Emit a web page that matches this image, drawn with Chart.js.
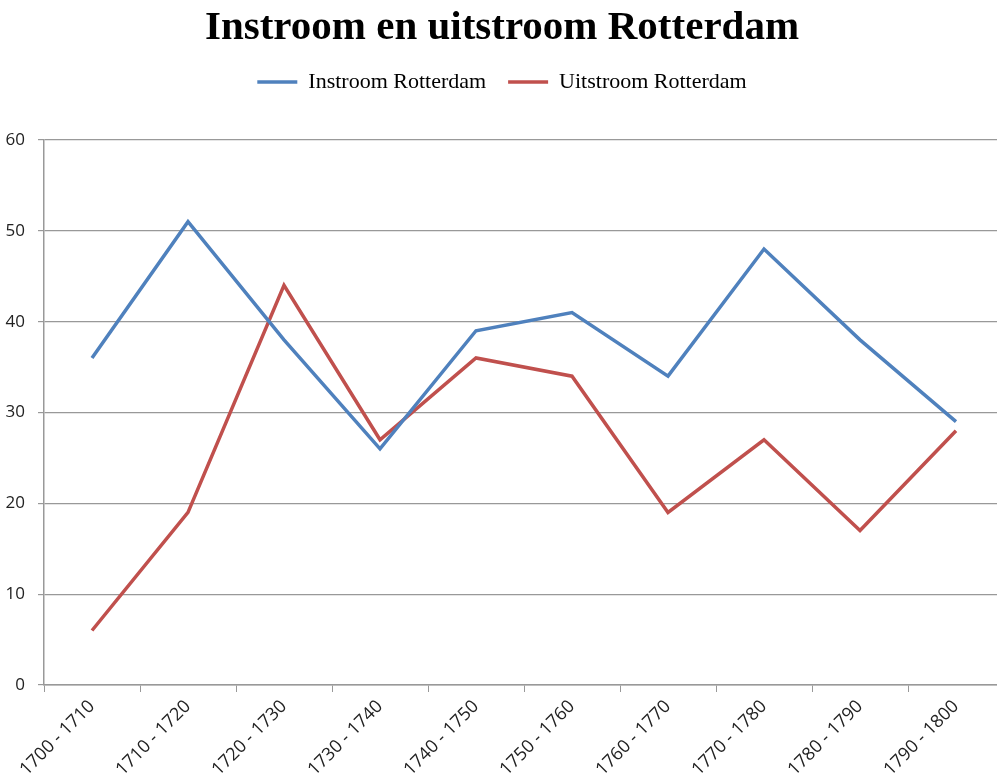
<!DOCTYPE html>
<html><head><meta charset="utf-8">
<script src="https://cdn.jsdelivr.net/npm/chart.js@4/dist/chart.umd.min.js"></script>
<style>html,body{margin:0;padding:0;background:#fff;overflow:hidden}#wrap{width:997px;height:778px;overflow:hidden}</style>
</head><body><div id="wrap"><canvas id="c" width="1004" height="778"></canvas></div>
<script>
const categories = ['1700 - 1710','1710 - 1720','1720 - 1730','1730 - 1740','1740 - 1750','1750 - 1760','1760 - 1770','1770 - 1780','1780 - 1790','1790 - 1800'];
const instroom = [36, 51, 38, 26, 39, 41, 34, 48, 38, 29];
const uitstroom = [6, 19, 44, 27, 36, 34, 19, 27, 17, 28];
const yTicks = [0, 10, 20, 30, 40, 50, 60];

const legendSpace = {id:'legendSpace', beforeInit(chart){ const fit = chart.legend.fit; chart.legend.fit = function(){ fit.bind(chart.legend)(); this.height += 37; }; }};

new Chart(document.getElementById('c'), {
  type: 'line',
  data: {
    labels: categories,
    datasets: [
      {label: 'Instroom Rotterdam', data: instroom, borderColor: '#4F81BD', backgroundColor: '#4F81BD', borderWidth: 3.5, pointRadius: 0, tension: 0},
      {label: 'Uitstroom Rotterdam', data: uitstroom, borderColor: '#C0504D', backgroundColor: '#C0504D', borderWidth: 3.5, pointRadius: 0, tension: 0}
    ]
  },
  plugins: [legendSpace],
  options: {
    responsive: false,
    animation: false,
    layout: {padding: {left: 0, right: 0, top: 0, bottom: 0}},
    plugins: {
      title: {display: true, text: 'Instroom en uitstroom Rotterdam', color: '#000',
        font: {family: 'Liberation Serif', size: 41, weight: 'bold', lineHeight: 1.0}, padding: {top: 8, bottom: 0}},
      legend: {position: 'top', labels: {usePointStyle: true, pointStyle: 'line', pointStyleWidth: 40,
        color: '#000', font: {family: 'Liberation Serif', size: 22}, padding: 22, boxHeight: 4}},
      tooltip: {enabled: false}
    },
    scales: {
      x: {offset: true,
        afterFit(s){ s.height = 93; },
        grid: {offset: true, display: true, drawOnChartArea: false, color: '#999', tickLength: 7, lineWidth: 1},
        border: {color: '#999', width: 1.5},
        ticks: {maxRotation: 45, minRotation: 45, color: '#222', font: {family: 'Open Sans', size: 18}, padding: 4}},
      y: {min: 0, max: 60,
        afterBuildTicks(s){ s.ticks = yTicks.map(v => ({value: v})); },
        afterFit(s){ s.width = 44; },
        grid: {color: '#999', tickLength: 6, lineWidth: 1.2},
        border: {color: '#999', width: 1.5},
        ticks: {color: '#222', font: {family: 'Open Sans', size: 17}, padding: 13}}
    }
  }
});
</script></body></html>
